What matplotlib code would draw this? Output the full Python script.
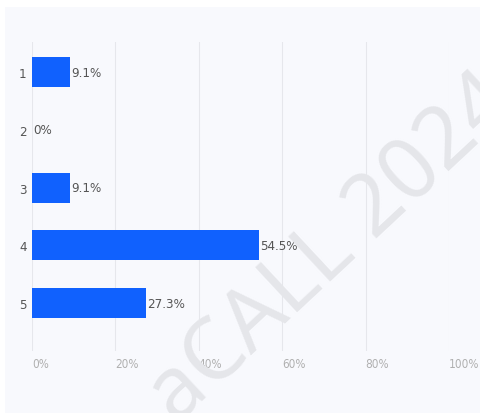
import matplotlib
matplotlib.use("Agg")
import matplotlib.pyplot as plt
from matplotlib.patches import Rectangle

# Answer share per rating option
categories = ["1", "2", "3", "4", "5"]
shares = [9.1, 0.0, 9.1, 54.5, 27.3]
share_labels = ["9.1%", "0%", "9.1%", "54.5%", "27.3%"]
x_ticks = [0, 20, 40, 60, 80, 100]
x_tick_labels = ["0%", "20%", "40%", "60%", "80%", "100%"]

plt.rcParams["font.family"] = ["DejaVu Sans Condensed", "Liberation Sans Narrow", "DejaVu Sans"]
plt.rcParams["font.stretch"] = "condensed"

W, H = 480, 414
fig = plt.figure(figsize=(W / 100, H / 100), dpi=100)
fig.patch.set_facecolor("white")

# light panel behind the chart
fig.patches.append(Rectangle((5 / W, 0), 1 - 5 / W, 1 - 8 / H,
                             transform=fig.transFigure, facecolor="#f8f9fd",
                             edgecolor="none", zorder=-5))

ax = fig.add_axes([32 / W, 1 - 352 / H, (449 - 32) / W, (352 - 43) / H])
ax.set_facecolor("none")
ax.set_zorder(1)

ypos = list(range(len(categories)))
ax.barh(ypos, shares, height=0.52, color="#1061fe", zorder=3)

for y, v, lab in zip(ypos, shares, share_labels):
    ax.text(v + 0.3, y, lab, va="center", ha="left", fontsize=9.5,
            color="#555555", zorder=4)

ax.set_xlim(0, 100)
ax.set_ylim(4.83, -0.52)
ax.set_xticks(x_ticks)
ax.set_xticklabels(x_tick_labels, fontsize=8.5, color="#b0b0b0", ha="left")
ax.set_yticks(ypos)
ax.set_yticklabels(categories, fontsize=9.5, color="#555555")
ax.tick_params(axis="both", length=0)
ax.tick_params(axis="x", pad=4)
ax.tick_params(axis="y", pad=4)
ax.grid(axis="x", color="#e6e7ec", linewidth=0.8, zorder=1)
for s in ax.spines.values():
    s.set_visible(False)

# diagonal watermark
fig.text(332 / W, 1 - 250 / H, "aCALL 2024", rotation=43, fontsize=62,
         color="#e5e6ea", ha="center", va="center",
         family="Noto Sans", zorder=2)

fig.savefig("out.png", dpi=100)
